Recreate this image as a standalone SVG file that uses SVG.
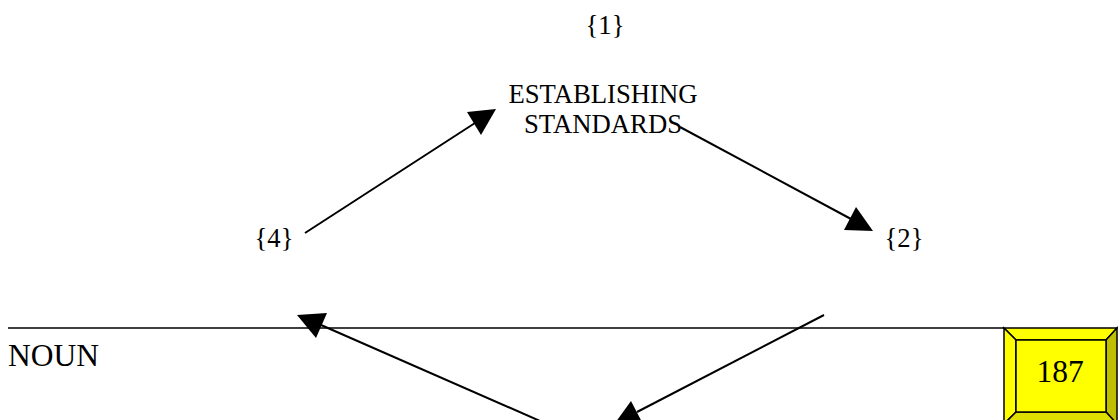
<svg xmlns="http://www.w3.org/2000/svg" width="1118" height="420" viewBox="0 0 1118 420">
  <style>
    .lbl { font-family: "Liberation Serif", "Times New Roman", serif; fill: #000; }
    .s26 { font-size: 26.7px; }
    .s31 { font-size: 31.5px; }
    .conn { stroke: #000; stroke-width: 2; fill: none; }
    .head { fill: #000; stroke: none; }
    .bev { stroke: #000; stroke-width: 1.5; stroke-linejoin: miter; }
  </style>
  <rect width="1118" height="420" fill="#fff"/>

  <!-- connectors -->
  <g id="connectors">
    <!-- {4} -> ESTABLISHING STANDARDS -->
    <line class="conn" x1="305" y1="233" x2="475" y2="123"/>
    <polygon class="head" points="496,109 467,112 481,135"/>
    <!-- STANDARDS -> {2} -->
    <line class="conn" x1="680" y1="127" x2="851" y2="219"/>
    <polygon class="head" points="873,231 844,230 856,207"/>
    <!-- {2} -> lower stage -->
    <line class="conn" x1="824" y1="315" x2="637" y2="412"/>
    <polygon class="head" points="614,424.5 631,401 643,424"/>
    <!-- lower stage -> {4} -->
    <line class="conn" x1="556" y1="428" x2="321" y2="325"/>
    <polygon class="head" points="297,315 327,313 316,338"/>
  </g>

  <!-- page rule -->
  <g id="rule">
    <line x1="8" y1="328" x2="1004" y2="328" stroke="#000" stroke-width="1.5"/>
  </g>

  <!-- stage labels -->
  <g id="node-1">
    <text class="lbl s26" x="605" y="34" text-anchor="middle">{1}</text>
  </g>
  <g id="node-establishing">
    <text class="lbl s26" x="603" y="103" text-anchor="middle">ESTABLISHING</text>
    <text class="lbl s26" x="603" y="133" text-anchor="middle">STANDARDS</text>
  </g>
  <g id="node-2">
    <text class="lbl s26" x="904" y="247" text-anchor="middle">{2}</text>
  </g>
  <g id="node-4">
    <text class="lbl s26" x="274" y="247" text-anchor="middle">{4}</text>
  </g>
  <g id="node-noun">
    <text class="lbl s31" x="8" y="366">NOUN</text>
  </g>

  <!-- page number button -->
  <g id="node-page">
    <polygon class="bev" fill="#ffff00" points="1004,328 1117,328 1106,340 1016,340"/>
    <polygon class="bev" fill="#ffff00" points="1004,328 1016,340 1016,412 1004,424"/>
    <polygon class="bev" fill="#bfbf00" points="1117,328 1117,424 1106,412 1106,340"/>
    <polygon class="bev" fill="#dede00" points="1004,424 1016,412 1106,412 1117,424"/>
    <rect class="bev" fill="#ffff00" x="1016" y="340" width="90" height="72"/>
    <text class="lbl s31" x="1060" y="382" text-anchor="middle">187</text>
  </g>
</svg>
